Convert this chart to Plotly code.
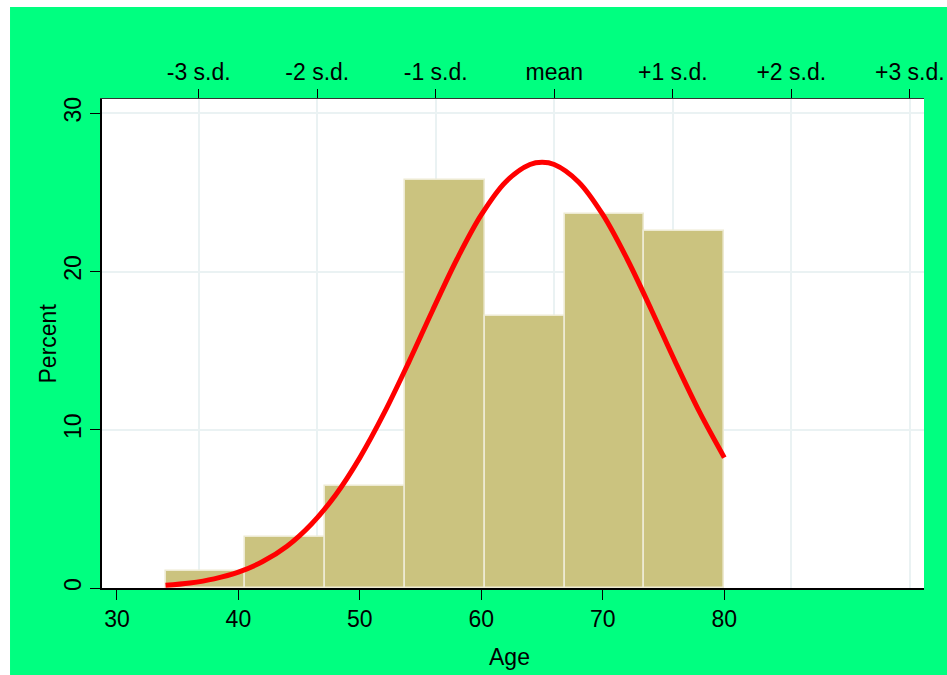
import plotly.graph_objects as go

# Histogram of Age (percent per bin), 7 bins from 34 to 80
bin_centers = [37.286, 43.857, 50.429, 57.0, 63.571, 70.143, 76.714]
bin_width = 6.571
percent = [1.08, 3.23, 6.45, 25.81, 17.20, 23.66, 22.58]

# Normal density curve (percent scale)
curve_x = [34, 36, 38, 40, 42, 44, 46, 48, 50, 52, 54, 56, 58, 60, 62, 64, 65,
           66, 68, 70, 72, 74, 76, 78, 80]
curve_y = [0.17, 0.32, 0.58, 1.00, 1.67, 2.64, 4.03, 5.88, 8.24, 11.06, 14.23,
           17.57, 20.79, 23.59, 25.66, 26.76, 26.90, 26.76, 25.66, 23.59, 20.79,
           17.57, 14.23, 11.06, 8.24]

# Bottom axis ticks
age_ticks = [30, 40, 50, 60, 70, 80]
# Top axis (s.d. markers)
sd_ticks = [36.73, 46.49, 56.24, 66.0, 75.76, 85.51, 95.27]
sd_labels = ["-3 s.d.", "-2 s.d.", "-1 s.d.", "mean", "+1 s.d.", "+2 s.d.", "+3 s.d."]
pct_ticks = [0, 10, 20, 30]

x_range = [28.77, 96.44]
y_range = [0, 30.9]

FONT = "Liberation Sans, Arial, sans-serif"
GRID = "#EAF2F3"
GREEN = "#00FF80"
FS = 23

fig = go.Figure()
fig.add_trace(go.Bar(
    x=bin_centers, y=percent, width=[bin_width] * len(bin_centers),
    marker=dict(color="#CBC37F", line=dict(color="#EDEAD2", width=1.6)),
    xaxis="x", yaxis="y", showlegend=False, hoverinfo="skip",
))
fig.add_trace(go.Scatter(
    x=curve_x, y=curve_y, mode="lines", line=dict(color="#FF0000", width=5, shape="spline"),
    xaxis="x2", yaxis="y", showlegend=False, hoverinfo="skip",
))

fig.update_layout(
    width=947, height=675,
    margin=dict(l=102, r=23, t=99, b=87),
    paper_bgcolor=GREEN, plot_bgcolor="white",
    font=dict(family=FONT, size=FS, color="black"),
    bargap=0,
    xaxis=dict(
        range=x_range, tickvals=age_ticks, ticks="outside", ticklen=10,
        tickcolor="black", tickwidth=1.2, showline=True, linecolor="black",
        linewidth=1.5, showgrid=False, zeroline=False, automargin=False,
        tickfont=dict(size=FS),
    ),
    xaxis2=dict(
        range=x_range, overlaying="x", side="top", tickvals=sd_ticks,
        ticktext=sd_labels, ticks="outside", ticklen=9, tickcolor="black",
        tickwidth=1.2, showline=True, linecolor="#333333", linewidth=1.3,
        showgrid=True, gridcolor=GRID, gridwidth=2, zeroline=False,
        automargin=False, tickfont=dict(size=FS),
    ),
    yaxis=dict(
        range=y_range, tickvals=pct_ticks, tickangle=-90, ticks="outside",
        ticklen=10, tickcolor="black", tickwidth=1.2, showline=True,
        linecolor="black", linewidth=1.5, showgrid=True, gridcolor=GRID,
        gridwidth=2, zeroline=False, automargin=False,
        tickfont=dict(size=FS),
    ),
    annotations=[
        dict(text="Age", xref="paper", yref="paper", x=0.4959, y=-0.1411,
             xanchor="center", yanchor="middle", showarrow=False,
             font=dict(size=FS)),
        dict(text="Percent", xref="paper", yref="paper", x=-0.0657, y=0.5,
             xanchor="center", yanchor="middle", textangle=-90, showarrow=False,
             font=dict(size=FS)),
    ],
    shapes=[
        dict(type="rect", xref="paper", yref="paper", x0=-0.2, x1=1.2,
             y0=1.1881, y1=1.3, fillcolor="white", line=dict(width=0), layer="above"),
        dict(type="rect", xref="paper", yref="paper", x0=-0.2, x1=-0.1119,
             y0=-0.3, y1=1.3, fillcolor="white", line=dict(width=0), layer="above"),
    ],
)

fig.write_html("out.html")
